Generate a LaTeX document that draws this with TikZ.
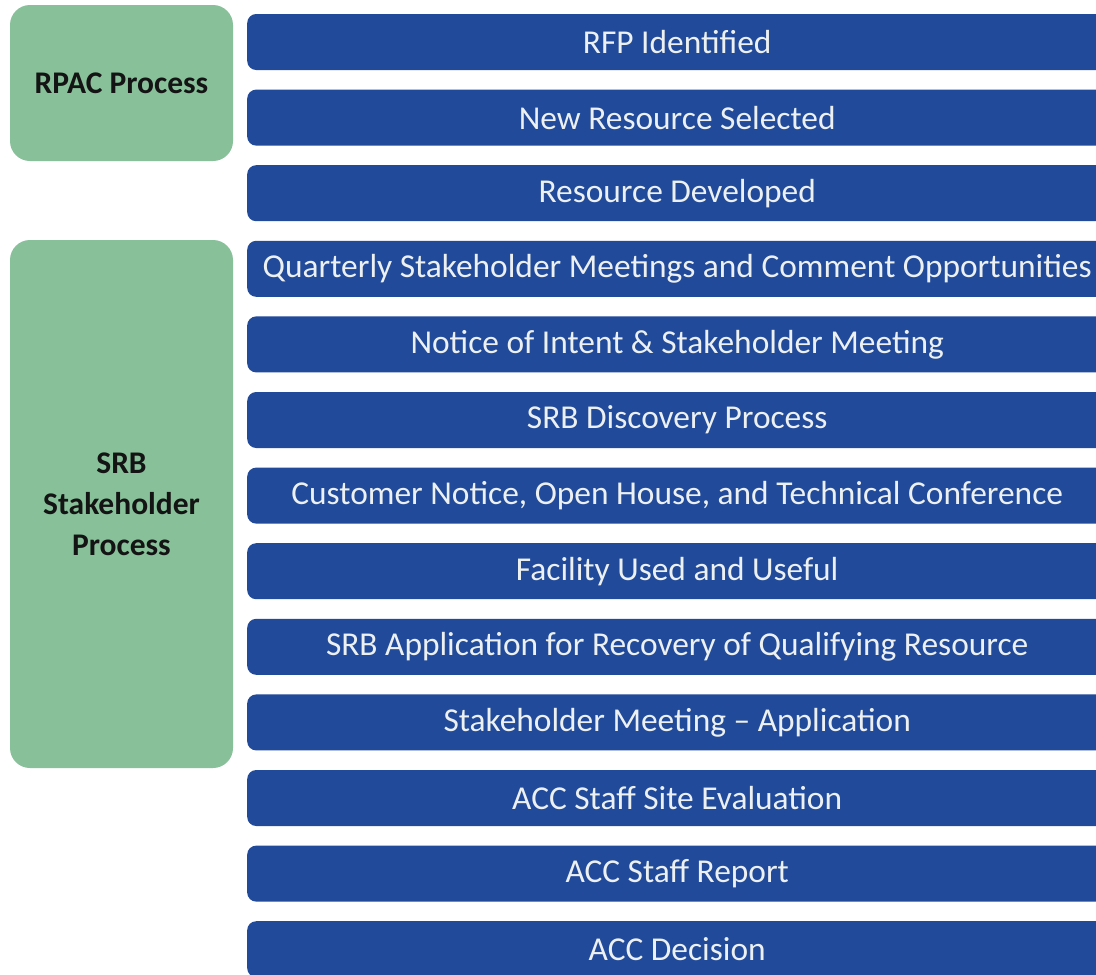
\documentclass[tikz,border=0pt]{standalone}
\usepackage{fontspec}
\setmainfont{Carlito}
\definecolor{barblue}{RGB}{33,74,154}
\definecolor{bartext}{RGB}{236,240,240}
\definecolor{groupgreen}{RGB}{135,192,153}
\definecolor{grouptext}{RGB}{20,20,20}
\begin{document}
\begin{tikzpicture}[x=1pt,y=-1pt,
  stagebar/.style={anchor=west, fill=barblue, rounded corners=9pt,
    minimum width=860pt, minimum height=56pt, inner sep=0pt,
    text=bartext, font=\fontsize{33.4}{38}\selectfont},
  groupbox/.style={fill=groupgreen, rounded corners=20pt,
    minimum width=223pt, inner sep=0pt, text=grouptext, align=center,
    font=\bfseries\fontsize{31.5}{41}\selectfont}]
\useasboundingbox (0,0) rectangle (1096,975);
\clip (0,0) rectangle (1096,975);
\fill[white] (0,0) rectangle (1096,975);

% process groups
\node[groupbox, minimum height=156pt] (rpac) at (121.5,83) {RPAC Process};
\node[groupbox, minimum height=528pt] (srb) at (121.5,504) {SRB\\Stakeholder\\Process};

% process stages
\node[stagebar] (s1)  at (247,42.0)  {RFP Identified};
\node[stagebar] (s2)  at (247,117.6) {New Resource Selected};
\node[stagebar] (s3)  at (247,193.2) {Resource Developed};
\node[stagebar] (s4)  at (247,268.8) {Quarterly Stakeholder Meetings and Comment Opportunities};
\node[stagebar] (s5)  at (247,344.4) {Notice of Intent \& Stakeholder Meeting};
\node[stagebar] (s6)  at (247,420.0) {SRB Discovery Process};
\node[stagebar] (s7)  at (247,495.6) {Customer Notice, Open House, and Technical Conference};
\node[stagebar] (s8)  at (247,571.2) {Facility Used and Useful};
\node[stagebar] (s9)  at (247,646.8) {SRB Application for Recovery of Qualifying Resource};
\node[stagebar] (s10) at (247,722.4) {Stakeholder Meeting – Application};
\node[stagebar] (s11) at (247,798.0) {ACC Staff Site Evaluation};
\node[stagebar] (s12) at (247,873.6) {ACC Staff Report};
\node[stagebar] (s13) at (247,949.2) {ACC Decision};
\end{tikzpicture}
\end{document}
